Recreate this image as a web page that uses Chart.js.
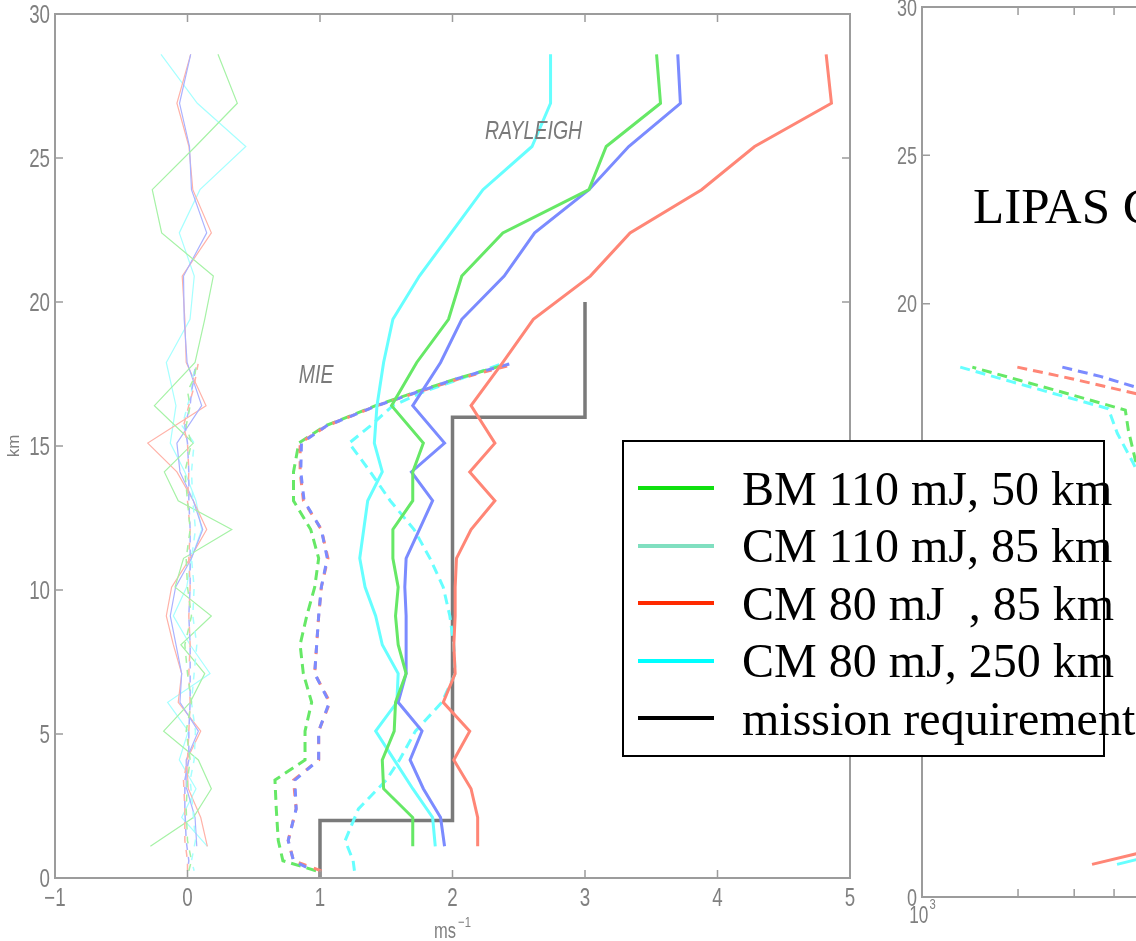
<!DOCTYPE html>
<html>
<head>
<meta charset="utf-8">
<script src="https://cdn.jsdelivr.net/npm/chart.js@4.4.0/dist/chart.umd.min.js"></script>
<style>
  html, body { margin: 0; padding: 0; width: 1136px; height: 941px; overflow: hidden; background: #fff; }
  #main { position: absolute; left: 0; top: 0; }
  #side { position: absolute; left: 860px; top: -10px; }
  #legend { position: absolute; left: 622px; top: 440px; width: 479px; height: 313px;
            border: 2px solid #000; background: #fff;
            font-family: 'Liberation Serif', 'Times New Roman', serif; font-size: 48px; color: #000; }
  .row { position: absolute; left: 0; height: 57px; line-height: 57px; white-space: nowrap; }
  .sample { position: absolute; left: 14px; width: 76px; height: 4px; top: 26.5px; }
  .label { position: absolute; left: 118px; top: 0; }
  #lipas { position: absolute; left: 973px; top: 181px; font-family: 'Liberation Serif', 'Times New Roman', serif;
           font-size: 51px; line-height: 51px; white-space: nowrap; color: #000; }
</style>
</head>
<body>
<canvas id="main" width="880" height="941"></canvas>
<canvas id="side" width="720" height="951"></canvas>
<div id="lipas">LIPAS C</div>
<div id="legend"></div>
<script>
// altitude levels (km)
const altRayleigh = [1.1, 2.1, 3.1, 4.1, 5.1, 6.1, 7.1, 8.1, 9.1, 10.1, 11.1, 12.1, 13.1, 14.1, 15.1, 16.4, 17.9, 19.4, 20.9, 22.4, 23.9, 25.4, 26.9, 28.6];
const altMie = [0.25, 0.6, 1.3, 2.4, 3.4, 4.1, 5.1, 6.1, 7.1, 8.1, 9.1, 10.1, 11.1, 12.1, 13.1, 14.1, 15.1, 15.7, 16.4, 16.9, 17.35, 17.85];

// random error, Rayleigh channel (ms-1)
const rayGreen = [1.70, 1.70, 1.48, 1.47, 1.56, 1.57, 1.65, 1.59, 1.57, 1.59, 1.55, 1.55, 1.70, 1.70, 1.78, 1.54, 1.73, 1.97, 2.07, 2.38, 3.03, 3.16, 3.57, 3.54];
const rayBlue  = [1.94, 1.91, 1.78, 1.68, 1.77, 1.59, 1.65, 1.65, 1.65, 1.64, 1.65, 1.75, 1.85, 1.69, 1.94, 1.70, 1.91, 2.07, 2.39, 2.62, 3.03, 3.33, 3.72, 3.70];
const rayRed   = [2.19, 2.19, 2.14, 2.01, 2.13, 1.93, 2.02, 2.01, 2.02, 2.02, 2.03, 2.14, 2.32, 2.13, 2.32, 2.14, 2.38, 2.61, 3.04, 3.34, 3.88, 4.28, 4.86, 4.82];
const rayCyan  = [1.87, 1.85, 1.70, 1.56, 1.42, 1.58, 1.59, 1.47, 1.42, 1.34, 1.30, 1.33, 1.36, 1.47, 1.41, 1.43, 1.48, 1.55, 1.75, 1.99, 2.23, 2.60, 2.74, 2.74];

// random error, Mie channel
const mieGreen = [0.97, 0.72, 0.685, 0.67, 0.66, 0.887, 0.887, 0.937, 0.874, 0.85, 0.90, 0.96, 0.99, 0.93, 0.80, 0.80, 0.84, 1.04, 1.42, 1.74, 2.04, 2.42];
const mieBlue  = [0.95, 0.80, 0.76, 0.82, 0.81, 0.99, 0.99, 1.07, 0.96, 0.975, 0.99, 1.01, 1.055, 1.01, 0.88, 0.855, 0.86, 1.05, 1.43, 1.75, 2.04, 2.43];
const mieRed   = [1.01, 0.80, 0.76, 0.82, 0.80, 0.99, 0.99, 1.075, 0.96, 0.975, 0.99, 1.01, 1.06, 1.01, 0.875, 0.85, 0.85, 1.05, 1.43, 1.76, 2.06, 2.47];
const mieCyan  = [1.26, 1.25, 1.19, 1.29, 1.50, 1.60, 1.72, 1.92, 2.02, 2.01, 1.98, 1.93, 1.83, 1.71, 1.53, 1.38, 1.22, 1.38, 1.55, 1.79, 2.07, 2.37];

// bias, Rayleigh channel (thin solid)
const biasRayGreen = [-0.28, 0.044, 0.18, 0.082, -0.18, 0.02, 0.13, -0.05, 0.18, -0.094, -0.03, 0.334, -0.07, -0.175, 0.044, -0.25, 0.057, 0.13, 0.195, -0.195, -0.266, 0.06, 0.376, 0.23];
const biasRayBlue  = [0.07, 0.057, -0.006, -0.01, 0.082, -0.057, -0.044, -0.087, -0.13, -0.09, 0.03, 0.115, 0.044, -0.057, -0.08, 0.107, -0.003, -0.025, -0.03, 0.145, 0.03, 0.015, -0.06, 0.024];
const biasRayRed   = [0.15, 0.10, 0.006, -0.006, 0.10, -0.07, -0.044, -0.107, -0.16, -0.12, 0.019, 0.145, 0.044, -0.08, -0.30, 0.14, -0.01, -0.02, -0.04, 0.18, 0.04, 0.011, -0.08, 0.024];
const biasRayCyan  = [0.15, -0.044, 0.064, -0.062, 0.006, -0.15, 0.17, 0.019, -0.107, -0.006, 0.03, 0.107, 0.064, -0.02, -0.13, -0.087, -0.16, 0.019, 0.051, -0.062, 0.094, 0.44, 0.074, -0.2];

// bias, Mie channel (thin dashed)
const biasMieGreen = [0.01, 0.03, 0.0, -0.01, 0.0, 0.02, -0.01, 0.03, 0.0, -0.02, 0.03, 0.0, -0.01, 0.02, 0.0, -0.02, 0.03, -0.01, 0.02, 0.0, 0.05, 0.07];
const biasMieBlue  = [0.0, 0.01, -0.01, -0.02, -0.02, 0.01, 0.01, 0.02, 0.02, 0.02, 0.01, 0.02, 0.02, 0.02, 0.01, 0.01, 0.0, -0.02, 0.02, 0.03, 0.05, 0.06];
const biasMieRed   = [0.0, 0.0, -0.02, -0.02, -0.03, 0.0, 0.01, 0.02, 0.01, 0.02, 0.01, 0.02, 0.01, 0.02, 0.0, 0.01, 0.0, -0.03, 0.01, 0.04, 0.06, 0.08];
const biasMieCyan  = [0.05, 0.03, 0.06, 0.04, 0.02, 0.05, 0.06, 0.03, 0.05, 0.07, 0.04, 0.05, 0.03, 0.06, 0.04, 0.03, 0.05, -0.04, 0.0, 0.03, 0.04, 0.06];

// mission requirement step
const reqSpeed = [1, 1, 2, 2, 3, 3];
const reqAlt   = [0, 2, 2, 16, 16, 20];

// right-hand panel (partly visible)
const sideAltCyanMie = [17.86, 17.38, 16.91, 16.46, 15.63, 14.62, 13.4];
const sideCyanMie    = [1318, 1891, 2713, 3838, 4095, 4597, 5196];
const sideAltGreenMie = [17.86, 17.41, 16.94, 16.41, 15.73, 14.72, 13.37];
const sideGreenMie    = [1438, 2034, 2920, 4339, 4436, 4667, 5117];
const sideAltRedMie = [17.86, 17.48, 16.97, 16.56];
const sideRedMie    = [1990, 2920, 4667, 6450];
const sideAltBlueMie = [17.86, 17.55, 17.19, 16.81];
const sideBlueMie    = [2754, 3622, 4667, 6450];
const sideAltRedRay = [1.10, 1.46, 1.74];
const sideRedRay    = [3412, 4697, 5998];
const sideAltCyanRay = [1.10, 1.26, 1.51];
const sideCyanRay    = [4087, 4697, 5998];

const legendLabels = ['BM 110 mJ, 50 km', 'CM 110 mJ, 85 km', 'CM 80 mJ\u00A0\u00A0, 85 km', 'CM 80 mJ, 250 km', 'mission requirement'];
const legendColors = ['#10e010', '#80dfc0', '#ff2a00', '#00ffff', '#000000'];

const GREEN = '#66e866', BLUE = '#7b8bff', RED = '#ff8676', CYAN = '#66ffff';
const TGREEN = '#a6f2a6', TBLUE = '#aab2ff', TRED = '#ffb2a8', TCYAN = '#a6ffff';
const SANS = "'Liberation Sans', Arial, sans-serif";
const GREY = '#808080';
const SQUEEZE = 0.75;   // the original tick font is a narrow Helvetica

function pts(xs, alts) {
    return xs.map((v, i) => ({ x: v, y: alts[i] }));
}

function series(label, xs, alts, color, width, dash, offset) {
    return {
        label: label,
        data: pts(xs, alts),
        showLine: true,
        borderColor: color,
        backgroundColor: color,
        borderWidth: width,
        borderDash: dash || [],
        borderDashOffset: offset || 0,
        pointRadius: 0,
        fill: false
    };
}

// narrow text helper: draws text squeezed horizontally
function narrowText(ctx, text, x, y, size, align, style) {
    ctx.save();
    ctx.font = (style || '') + ' ' + size + 'px ' + SANS;
    const w = ctx.measureText(text).width * SQUEEZE;
    let left = x;
    if (align === 'center') left = x - w / 2;
    if (align === 'right') left = x - w;
    ctx.translate(left, y);
    ctx.scale(SQUEEZE, 1);
    ctx.textAlign = 'left';
    ctx.textBaseline = 'alphabetic';
    ctx.fillText(text, 0, 0);
    ctx.restore();
    return w;
}

// box round the axes with inward ticks, like the original figure
const framePlugin = {
    id: 'frame',
    afterDatasetsDraw(chart) {
        const { ctx, chartArea: a, scales } = chart;
        const x = scales.x, y = scales.y;
        ctx.save();
        ctx.strokeStyle = '#9c9c9c';
        ctx.lineWidth = 1.5;
        ctx.beginPath();
        x.ticks.forEach(t => {
            const p = x.getPixelForValue(t.value);
            if (p <= a.left + 1 || p >= a.right - 1) return;
            ctx.moveTo(p, a.bottom); ctx.lineTo(p, a.bottom - 8);
            ctx.moveTo(p, a.top); ctx.lineTo(p, a.top + 8);
        });
        y.ticks.forEach(t => {
            const p = y.getPixelForValue(t.value);
            if (p <= a.top + 1 || p >= a.bottom - 1) return;
            ctx.moveTo(a.left, p); ctx.lineTo(a.left + 8, p);
            ctx.moveTo(a.right, p); ctx.lineTo(a.right - 8, p);
        });
        ctx.stroke();
        ctx.lineWidth = 2;
        ctx.strokeRect(a.left, a.top, a.right - a.left, a.bottom - a.top);
        ctx.restore();
    }
};

// tick labels and axis titles in narrow grey type
const axisTextPlugin = {
    id: 'axisText',
    afterDraw(chart, args, opts) {
        const { ctx, chartArea: a, scales } = chart;
        ctx.save();
        ctx.fillStyle = GREY;
        scales.x.ticks.forEach(t => {
            const lab = opts.xLabel(t.value);
            if (!lab) return;
            const px = scales.x.getPixelForValue(t.value);
            const base = a.bottom + opts.xGap;
            if (lab.sup) {
                ctx.font = opts.size + 'px ' + SANS;
                const w1 = ctx.measureText(lab.text).width * SQUEEZE;
                ctx.font = opts.supSize + 'px ' + SANS;
                const w2 = ctx.measureText(lab.sup).width * SQUEEZE;
                const left = px - (w1 + w2) / 2;
                narrowText(ctx, lab.text, left, base, opts.size, 'left');
                narrowText(ctx, lab.sup, left + w1 + 1, base - 14, opts.supSize, 'left');
            } else {
                narrowText(ctx, lab.text, px, base, opts.size, 'center');
            }
        });
        scales.y.ticks.forEach(t => {
            const py = scales.y.getPixelForValue(t.value);
            narrowText(ctx, String(t.value), a.left - 5, py + opts.ySize * 0.36, opts.ySize, 'right');
        });
        if (opts.xTitle) {
            const cx = (a.left + a.right) / 2;
            ctx.font = '22px ' + SANS;
            const w1 = ctx.measureText(opts.xTitle).width * SQUEEZE;
            ctx.font = '15px ' + SANS;
            const w2 = ctx.measureText(opts.xTitleSup).width * SQUEEZE;
            const left = cx - (w1 + w2 + 2) / 2;
            narrowText(ctx, opts.xTitle, left, 938, 22, 'left');
            narrowText(ctx, opts.xTitleSup, left + w1 + 2, 927, 15, 'left');
        }
        if (opts.yTitle) {
            ctx.save();
            ctx.translate(19, (a.top + a.bottom) / 2);
            ctx.rotate(-Math.PI / 2);
            ctx.font = '17px ' + SANS;
            ctx.textAlign = 'center';
            ctx.textBaseline = 'alphabetic';
            ctx.fillText(opts.yTitle, 0, 0);
            ctx.restore();
        }
        if (opts.notes) {
            opts.notes.forEach(n => {
                const px = scales.x.getPixelForValue(n.x);
                const py = scales.y.getPixelForValue(n.y);
                ctx.fillStyle = '#7a7a7a';
                narrowText(ctx, n.text, px, py + 9, 26, 'left', 'italic');
            });
        }
        ctx.restore();
    }
};

new Chart(document.getElementById('main'), {
    type: 'scatter',
    data: {
        datasets: [
            series('BM 110 mJ, 50 km', rayGreen, altRayleigh, GREEN, 3),
            series('CM 110 mJ, 85 km', rayBlue, altRayleigh, BLUE, 3),
            series('CM 80 mJ, 85 km', rayRed, altRayleigh, RED, 3),
            series('CM 80 mJ, 250 km', rayCyan, altRayleigh, CYAN, 3),
            series('CM 110 mJ, 85 km Mie', mieBlue, altMie, BLUE, 3, [8, 8], 8),
            series('CM 80 mJ, 85 km Mie', mieRed, altMie, RED, 3, [8, 8]),
            series('BM 110 mJ, 50 km Mie', mieGreen, altMie, GREEN, 3, [10, 6]),
            series('CM 80 mJ, 250 km Mie', mieCyan, altMie, CYAN, 3, [10, 6]),
            series('Mie bias BM 110', biasMieGreen, altMie, TGREEN, 1.5, [7, 7]),
            series('Mie bias CM 110', biasMieBlue, altMie, TBLUE, 1.5, [7, 7], 7),
            series('Mie bias CM 80', biasMieRed, altMie, TRED, 1.5, [7, 7]),
            series('Mie bias CM 80 250', biasMieCyan, altMie, TCYAN, 1.5, [7, 7], 3),
            series('bias BM 110', biasRayGreen, altRayleigh, TGREEN, 1.2),
            series('bias CM 110', biasRayBlue, altRayleigh, TBLUE, 1.2),
            series('bias CM 80', biasRayRed, altRayleigh, TRED, 1.2),
            series('bias CM 80 250', biasRayCyan, altRayleigh, TCYAN, 1.2),
            series('mission requirement', reqSpeed, reqAlt, '#7a7a7a', 3.5)
        ]
    },
    options: {
        responsive: false,
        animation: false,
        layout: { padding: { top: 14, right: 30, left: 0, bottom: 0 } },
        plugins: {
            legend: { display: false },
            tooltip: { enabled: false },
            axisText: {
                size: 25,
                ySize: 25,
                supSize: 15,
                xGap: 28,
                xLabel: v => ({ text: v < 0 ? '\u2212' + (-v) : String(v) }),
                xTitle: 'ms',
                xTitleSup: '\u22121',
                yTitle: 'km',
                notes: [
                    { text: 'MIE', x: 0.84, y: 17.5 },
                    { text: 'RAYLEIGH', x: 2.245, y: 25.97 }
                ]
            }
        },
        scales: {
            x: {
                type: 'linear',
                min: -1,
                max: 5,
                ticks: { stepSize: 1, display: false },
                grid: { display: false, drawTicks: false },
                border: { display: false },
                afterFit: s => { s.height = 63; }
            },
            y: {
                type: 'linear',
                min: 0,
                max: 30,
                ticks: { stepSize: 5, display: false },
                grid: { display: false, drawTicks: false },
                border: { display: false },
                afterFit: s => { s.width = 55; }
            }
        }
    },
    plugins: [framePlugin, axisTextPlugin]
});

const sideTicks = [];
[1000, 10000].forEach(d => { for (let k = 1; k <= 9; k++) sideTicks.push(d * k); });
sideTicks.push(100000);
const sideExp = { 1000: '3', 10000: '4', 100000: '5' };

new Chart(document.getElementById('side'), {
    type: 'scatter',
    data: {
        datasets: [
            series('CM 80 mJ, 250 km Mie', sideCyanMie, sideAltCyanMie, CYAN, 3, [10, 6]),
            series('BM 110 mJ, 50 km Mie', sideGreenMie, sideAltGreenMie, GREEN, 3, [10, 6], 6),
            series('CM 80 mJ, 85 km Mie', sideRedMie, sideAltRedMie, RED, 3, [10, 6]),
            series('CM 110 mJ, 85 km Mie', sideBlueMie, sideAltBlueMie, BLUE, 3, [10, 6]),
            series('CM 80 mJ, 85 km', sideRedRay, sideAltRedRay, RED, 3),
            series('CM 80 mJ, 250 km', sideCyanRay, sideAltCyanRay, CYAN, 3)
        ]
    },
    options: {
        responsive: false,
        animation: false,
        layout: { padding: { top: 17, right: 20, left: 0, bottom: 0 } },
        plugins: {
            legend: { display: false },
            tooltip: { enabled: false },
            axisText: {
                size: 23,
                ySize: 24,
                supSize: 15,
                xGap: 26,
                xLabel: v => (sideExp[v] ? { text: '10', sup: sideExp[v] } : null)
            }
        },
        scales: {
            x: {
                type: 'logarithmic',
                min: 1000,
                max: 100000,
                afterBuildTicks: s => { s.ticks = sideTicks.map(v => ({ value: v })); },
                ticks: { display: false, autoSkip: false },
                grid: { display: false, drawTicks: false },
                border: { display: false },
                afterFit: s => { s.height = 44; }
            },
            y: {
                type: 'linear',
                min: 0,
                max: 30,
                ticks: { stepSize: 5, display: false },
                grid: { display: false, drawTicks: false },
                border: { display: false },
                afterFit: s => { s.width = 62; }
            }
        }
    },
    plugins: [framePlugin, axisTextPlugin]
});

// legend box drawn over both panels
const legend = document.getElementById('legend');
legendLabels.forEach((text, i) => {
    const row = document.createElement('div');
    row.className = 'row';
    row.style.top = (17.5 + i * 57.5) + 'px';
    row.style.width = '600px';
    const sample = document.createElement('div');
    sample.className = 'sample';
    sample.style.background = legendColors[i];
    const label = document.createElement('div');
    label.className = 'label';
    label.textContent = text;
    row.appendChild(sample);
    row.appendChild(label);
    legend.appendChild(row);
});
</script>
</body>
</html>
